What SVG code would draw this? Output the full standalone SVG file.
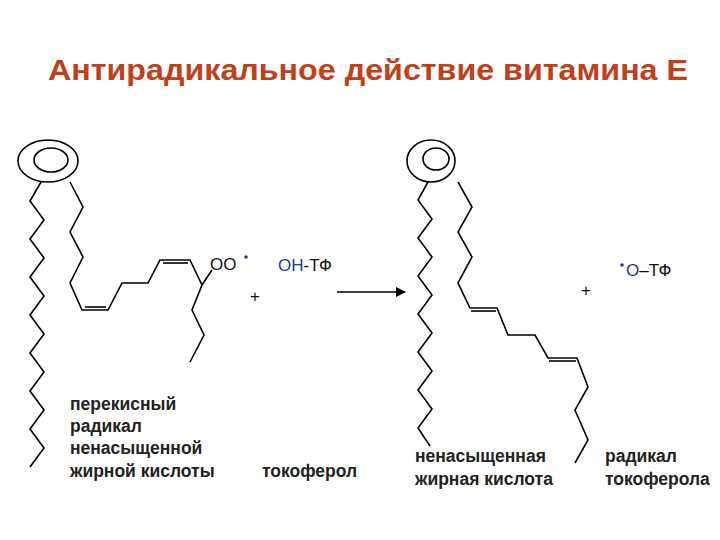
<svg xmlns="http://www.w3.org/2000/svg" width="720" height="540" viewBox="0 0 720 540">
<style>
.ch{fill:none;stroke:#000;stroke-width:1.6;stroke-linejoin:miter}
.lb{font-family:"Liberation Sans",Arial,sans-serif;font-weight:bold;font-size:17.5px;fill:#222}
.f{font-family:"Liberation Sans",Arial,sans-serif;font-size:17px;fill:#111}
.b{fill:#1a3a9a}
</style>
<defs><marker id="ah" markerWidth="10" markerHeight="10" refX="9" refY="5" orient="auto" markerUnits="userSpaceOnUse"><path d="M0,0 L10,5 L0,10 Z" fill="#000"/></marker></defs>
<rect width="720" height="540" fill="#fff"/>
<text x="48" y="80" font-family="Liberation Sans,Arial,sans-serif" font-weight="bold" font-size="30" textLength="640" lengthAdjust="spacingAndGlyphs" fill="#c0401a">Антирадикальное действие витамина Е</text>
<g id="peroxyl-radical">
<ellipse cx="48" cy="161" rx="30" ry="21" class="ch"/>
<ellipse cx="51" cy="160" rx="17" ry="12" class="ch"/>
<polyline class="ch" points="41,182 30,201 44,220 30,239 44,258 30,277 44,296 30,315 44,334 30,353 44,372 30,391 44,410 30,429 44,448 30,467"/>
<polyline class="ch" points="70,182 83,207 70,232 83,257 70,283 82,310 108,310 122,283 148,283 160,260 190,260 202,285 192,310 204,335 190,362"/>
<line class="ch" x1="85" y1="307" x2="106" y2="307"/>
<line class="ch" x1="163" y1="263" x2="188" y2="263"/>
<line class="ch" x1="202" y1="285" x2="212" y2="270"/>
<text class="f" x="210" y="270">OO</text>
<circle cx="246" cy="257" r="1.8" fill="#1a3a9a"/>
<text class="lb" x="70" y="410">перекисный</text>
<text class="lb" x="70" y="432">радикал</text>
<text class="lb" x="70" y="454">ненасыщенной</text>
<text class="lb" x="70" y="477">жирной кислоты</text>
</g>
<g id="tocopherol">
<text class="f" x="278" y="271"><tspan class="b">ОН</tspan>-ТФ</text>
<text class="lb" x="262" y="477">токоферол</text>
</g>
<text class="f" x="250" y="302">+</text>
<g id="fatty-acid">
<ellipse cx="431" cy="161" rx="24" ry="21" class="ch"/>
<ellipse cx="436" cy="159" rx="13" ry="11" class="ch"/>
<polyline class="ch" points="428,182 418,200 432,219 418,238 432,257 418,276 432,295 418,314 432,333 418,352 432,371 418,390 432,409 418,428 430,446"/>
<polyline class="ch" points="458,182 472,207 458,232 472,257 458,283 470,308 497,308 508,335 535,335 548,358 577,358 588,387 575,410 588,440 575,463"/>
<line class="ch" x1="471" y1="311" x2="496" y2="311"/>
<line class="ch" x1="549" y1="361" x2="576" y2="361"/>
<text class="lb" x="415" y="462">ненасыщенная</text>
<text class="lb" x="415" y="485">жирная кислота</text>
</g>
<text class="f" x="581" y="296">+</text>
<g id="tocopherol-radical">
<circle cx="622" cy="265" r="1.8" fill="#1a3a9a"/>
<text class="f" x="626" y="276"><tspan class="b">O</tspan>–ТФ</text>
<text class="lb" x="605" y="462">радикал</text>
<text class="lb" x="605" y="485">токоферола</text>
</g>
<g id="connectors">
<line x1="337" y1="292" x2="405" y2="292" stroke="#000" stroke-width="1.6" marker-end="url(#ah)"/>
</g>
</svg>
